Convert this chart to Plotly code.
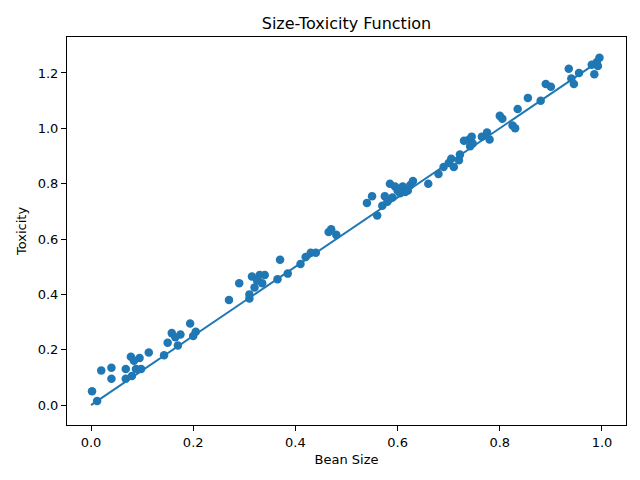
import plotly.graph_objects as go

# Bean size vs toxicity samples
bean_size = [0.002, 0.012, 0.02, 0.04, 0.04, 0.068, 0.068, 0.078, 0.08, 0.084, 0.088, 0.095, 0.098,
             0.113, 0.143, 0.15, 0.158, 0.165, 0.17, 0.175, 0.194, 0.2, 0.205,
             0.27, 0.29, 0.31, 0.31, 0.315, 0.32, 0.325, 0.33, 0.335, 0.34, 0.365, 0.37, 0.385,
             0.41, 0.42, 0.43, 0.44, 0.465, 0.47, 0.48,
             0.54, 0.55, 0.56, 0.57, 0.575, 0.58, 0.585, 0.59, 0.595, 0.6, 0.605, 0.61, 0.615,
             0.62, 0.625, 0.63, 0.66, 0.68, 0.69, 0.7, 0.705, 0.71, 0.72, 0.722, 0.73, 0.74,
             0.742, 0.745, 0.747, 0.765, 0.775, 0.78, 0.8, 0.805, 0.825, 0.83, 0.835, 0.855,
             0.88, 0.89, 0.9, 0.935, 0.94, 0.945, 0.955, 0.98, 0.985, 0.99, 0.995, 0.992]
toxicity = [0.05, 0.015, 0.125, 0.135, 0.095, 0.13, 0.095, 0.175, 0.105, 0.16, 0.13, 0.17, 0.13,
            0.19, 0.18, 0.225, 0.26, 0.245, 0.215, 0.255, 0.295, 0.25, 0.265,
            0.38, 0.44, 0.385, 0.40, 0.465, 0.425, 0.45, 0.47, 0.44, 0.47, 0.455, 0.525, 0.475,
            0.51, 0.535, 0.55, 0.55, 0.625, 0.635, 0.615,
            0.73, 0.755, 0.685, 0.72, 0.755, 0.735, 0.8, 0.75, 0.79, 0.775, 0.765, 0.79, 0.77,
            0.775, 0.795, 0.81, 0.8, 0.835, 0.86, 0.875, 0.89, 0.86, 0.885, 0.905, 0.955, 0.96,
            0.935, 0.97, 0.945, 0.97, 0.985, 0.96, 1.045, 1.035, 1.01, 1.0, 1.07, 1.11,
            1.1, 1.16, 1.15, 1.215, 1.18, 1.16, 1.2, 1.23, 1.195, 1.24, 1.255, 1.225]

# fitted function
line_x = [0, 1]
line_y = [0, 1.25]

blue = "#1f77b4"

fig = go.Figure()
fig.add_trace(go.Scatter(x=bean_size, y=toxicity, mode="markers",
                         marker=dict(size=8.5, color=blue, line=dict(width=0))))
fig.add_trace(go.Scatter(x=line_x, y=line_y, mode="lines", line=dict(color=blue, width=2)))

axis_style = dict(showgrid=False, zeroline=False, showline=True, mirror=True,
                  linecolor="black", linewidth=1, ticks="outside", ticklen=5,
                  tickcolor="black", tickfont=dict(size=13, color="black"))

# page body has an 8px margin, so the figure is a bit smaller and offset
fig.update_layout(
    width=632, height=472,
    paper_bgcolor="white", plot_bgcolor="white",
    showlegend=False,
    font=dict(family="DejaVu Sans", color="black"),
    margin=dict(l=59, r=14, t=29, b=55, autoexpand=False),
    title=dict(text="Size-Toxicity Function", xref="paper", x=0.5, xanchor="center",
               yref="container", y=1 - 15 / 472, yanchor="middle", font=dict(size=16)),
    xaxis=dict(range=[-0.047, 1.047], tickvals=[0, 0.2, 0.4, 0.6, 0.8, 1.0],
               ticktext=["0.0", "0.2", "0.4", "0.6", "0.8", "1.0"],
               title=dict(text="Bean Size", font=dict(size=13), standoff=6), **axis_style),
    yaxis=dict(range=[-0.072, 1.33], tickvals=[0, 0.2, 0.4, 0.6, 0.8, 1.0, 1.2],
               ticktext=["0.0", "0.2", "0.4", "0.6", "0.8", "1.0", "1.2"],
               title=dict(text="Toxicity", font=dict(size=13), standoff=8), **axis_style),
)

fig.write_html("out.html")
